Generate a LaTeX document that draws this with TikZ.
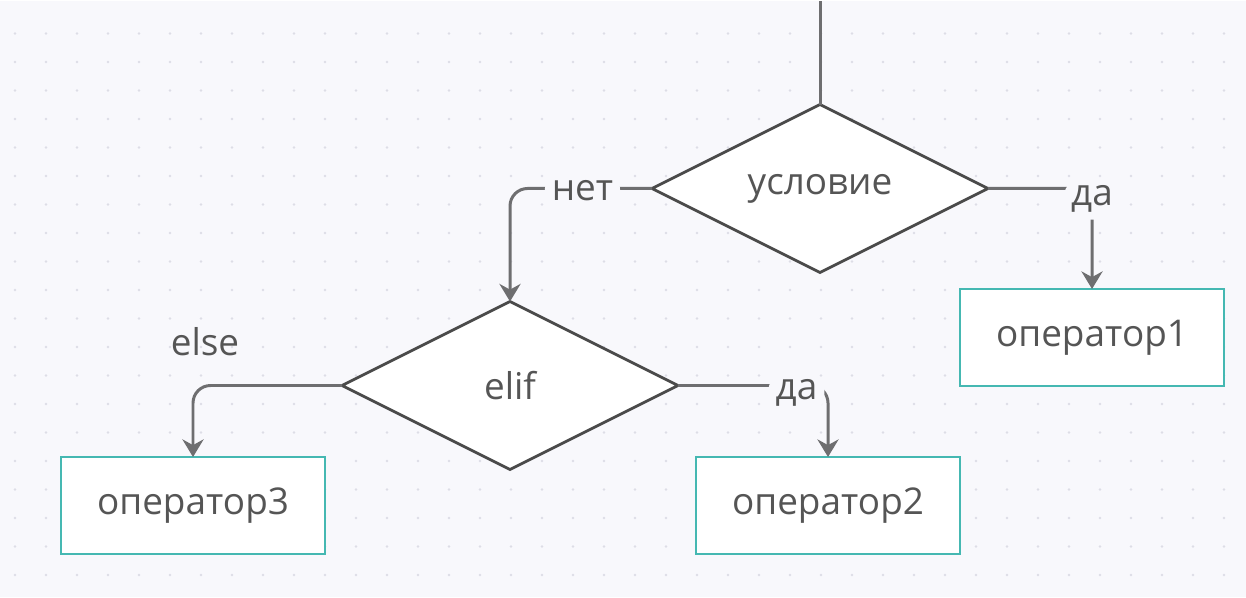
\documentclass[tikz,border=0pt]{standalone}
\usepackage{fontspec}
\setmainfont{Open Sans}
\usetikzlibrary{arrows.meta, shapes.geometric, positioning}

\definecolor{bgcol}{HTML}{F8F8FC}
\definecolor{dotcol}{HTML}{DDDDE6}
\definecolor{linecol}{HTML}{6E6E70}
\definecolor{edgecol}{HTML}{4A4A4A}
\definecolor{boxcol}{HTML}{45B8B2}
\definecolor{txtcol}{HTML}{555555}

\begin{document}
\begin{tikzpicture}[x=0.02cm, y=-0.02cm,
                    font=\fontsize{21}{25}\selectfont, text=txtcol,
                    cond node/.style= {diamond,
                      aspect=2,
                      draw=edgecol,
                      fill=white,
                      line width=1.6pt,
                      inner sep=0pt, outer sep=0pt,
                      minimum width=6.72cm,
                      minimum height=3.36cm},
                    op node/.style= {rectangle,
                      draw=boxcol,
                      fill=white,
                      line width=1.3pt,
                      outer sep=0pt,
                      minimum width=5.28cm,
                      minimum height=1.94cm},
                    conn/.style= {draw=linecol, line width=1.7pt,
                      rounded corners=10pt},
                    arr/.style= {-{Stealth[length=10pt, width=12pt]}},
                    lbl/.style= {fill=bgcol, inner sep=4pt}]

  % background with dot grid
  \fill[bgcol] (0,0) rectangle (1246,596);
  \foreach \x in {15,46,...,1246}
    \foreach \y in {32,60.5,...,596}
      \fill[dotcol] (\x,\y) circle (1.3);

  \node[cond node] (1) at (820,187) {\raisebox{-2pt}{условие}};
  \node[cond node] (2) at (510,384) {\raisebox{-2pt}{elif}};
  \node[op node] (3) at (1092,336) {\raisebox{-2pt}{оператор1}};
  \node[op node] (4) at (828,504) {\raisebox{-2pt}{оператор2}};
  \node[op node] (5) at (193,504) {\raisebox{-2pt}{оператор3}};
  \node (6) at (205,340) {else};
  \coordinate (0) at (820,0);

  \draw[conn] (0) -- (1.north);
  \draw[conn, arr] (1.west) -| node[lbl, pos=0.245, yshift=-1pt] {нет} (2.north);
  \draw[conn, arr] (1.east) -| node[lbl, pos=0.5, yshift=-6pt] {да} (3.north);
  \draw[conn, arr] (2.east) -| node[lbl, pos=0.395, yshift=-4pt] {да} (4.north);
  \draw[conn, arr] (2.west) -| (5.north);
\end{tikzpicture}
\end{document}
